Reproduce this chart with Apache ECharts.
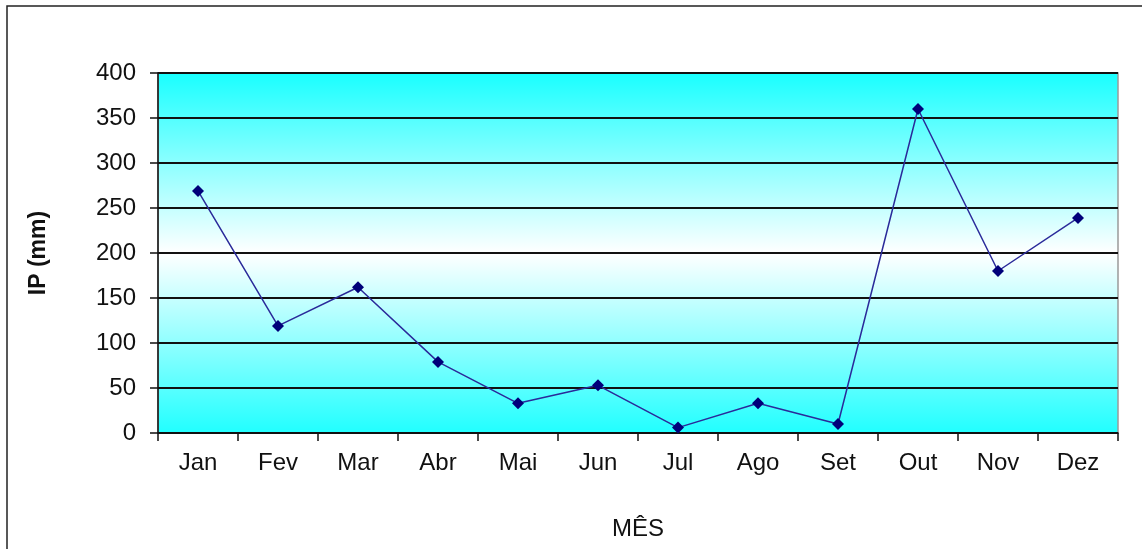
<!DOCTYPE html>
<html>
<head>
<meta charset="utf-8">
<script src="https://cdn.jsdelivr.net/npm/echarts@6/dist/echarts.min.js"></script>
<style>
  html, body { margin: 0; padding: 0; background: #fff; }
  #chart { width: 1142px; height: 549px; }
</style>
</head>
<body>
<div id="chart"></div>
<script>
// Monthly precipitation index (IP, mm)
const months = ['Jan', 'Fev', 'Mar', 'Abr', 'Mai', 'Jun', 'Jul', 'Ago', 'Set', 'Out', 'Nov', 'Dez'];
const ipValues = [269, 119, 162, 79, 33, 53, 6, 33, 10, 360, 180, 239];
const yTicks = { min: 0, max: 400, interval: 50 };
const xTitle = 'MÊS';
const yTitle = 'IP (mm)';

const chart = echarts.init(document.getElementById('chart'), null, { renderer: 'canvas' });
const font = 'Liberation Sans, Arial, sans-serif';

chart.setOption({
  animation: false,
  backgroundColor: '#ffffff',
  graphic: [{
    type: 'rect',
    shape: { x: 7, y: 6, width: 1160, height: 580 },
    style: { fill: 'none', stroke: '#222', lineWidth: 1.5 },
    silent: true,
    z: -1
  }],
  grid: {
    left: 158, right: 24, top: 73, bottom: 116,
    containLabel: false,
    outerBoundsMode: 'none',
    show: true,
    borderColor: '#9a9a9a',
    borderWidth: 1.5,
    backgroundColor: {
      type: 'linear', x: 0, y: 0, x2: 0, y2: 1,
      colorStops: [
        { offset: 0, color: '#18ffff' },
        { offset: 0.5, color: '#ffffff' },
        { offset: 1, color: '#20ffff' }
      ]
    }
  },
  xAxis: {
    type: 'category',
    data: months,
    boundaryGap: true,
    name: xTitle,
    nameLocation: 'middle',
    nameGap: 84,
    nameTextStyle: { fontFamily: font, fontSize: 24, color: '#111' },
    axisLine: { lineStyle: { color: '#111', width: 1.5 } },
    axisTick: { show: true, alignWithLabel: false, inside: false, length: 8, lineStyle: { color: '#111', width: 1.5 } },
    axisLabel: { fontFamily: font, fontSize: 24, color: '#111', margin: 18 },
    splitLine: { show: false }
  },
  yAxis: {
    type: 'value',
    min: yTicks.min, max: yTicks.max, interval: yTicks.interval,
    name: yTitle,
    nameLocation: 'middle',
    nameGap: 108,
    nameRotate: 90,
    nameTextStyle: { fontFamily: font, fontSize: 23, fontWeight: 'bold', color: '#111' },
    axisLine: { show: true, lineStyle: { color: '#111', width: 1.5 } },
    axisTick: { show: true, length: 8, lineStyle: { color: '#111', width: 1.5 } },
    axisLabel: { fontFamily: font, fontSize: 24, color: '#111', margin: 22 },
    splitLine: { show: true, lineStyle: { color: '#111', width: 1.8 } }
  },
  series: [{
    type: 'line',
    data: ipValues,
    symbol: 'diamond',
    symbolSize: 12,
    lineStyle: { color: '#2a2a9a', width: 1.5 },
    itemStyle: { color: '#00007a' }
  }]
});
</script>
</body>
</html>
